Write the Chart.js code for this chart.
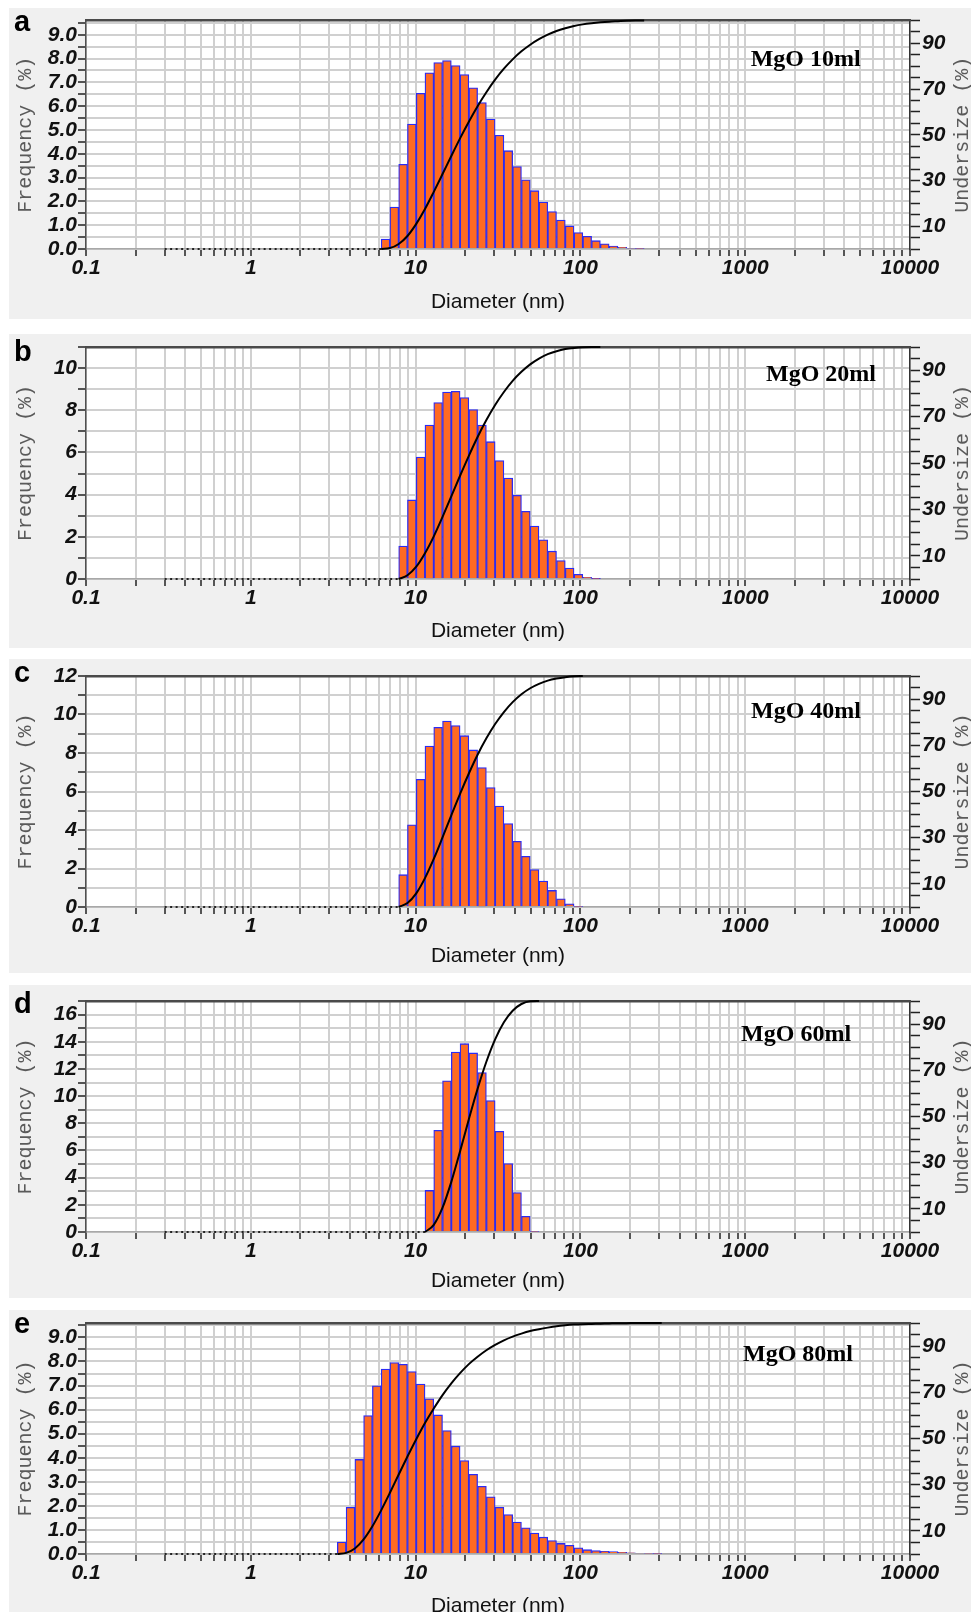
<!DOCTYPE html>
<html>
<head>
<meta charset="utf-8">
<script src="https://cdn.jsdelivr.net/npm/chart.js@4.4.1/dist/chart.umd.min.js"></script>
<style>
  html, body { margin: 0; padding: 0; background: #fff; }
  body { position: relative; width: 972px; height: 1612px; overflow: hidden; }
  .panel { position: absolute; left: 9px; width: 962px; background: #f0f0f0; }
  .panel canvas { position: absolute; left: 0; top: 0; }
  .letter { position: absolute; left: 14px; font: bold 29px 'Liberation Sans', Arial, sans-serif; line-height: 29px; color: #000; }
</style>
</head>
<body>
<script>
// Partikelgrössenverteilung MgO – fünf Panels (a–e), gleiche log-Achse 0.1–10000 nm

// Klassenmitten und Klassengrenzen (nm), gemeinsames Raster aller Messungen
const binCenters = [3.562, 4.026, 4.550, 5.143, 5.813, 6.571, 7.427, 8.395, 9.489, 10.73,
  12.12, 13.70, 15.49, 17.51, 19.79, 22.37, 25.28, 28.58, 32.30, 36.51,
  41.27, 46.65, 52.72, 59.60, 67.36, 76.14, 86.06, 97.28, 110.0, 124.3,
  140.5, 158.8, 179.5, 202.9, 229.3, 259.2, 293.0];
const binEdges = [3.350, 3.787, 4.280, 4.838, 5.468, 6.180, 6.986, 7.896, 8.925, 10.09,
  11.40, 12.89, 14.57, 16.47, 18.61, 21.04, 23.78, 26.88, 30.38, 34.34,
  38.81, 43.87, 49.59, 56.05, 63.35, 71.61, 80.94, 91.49, 103.4, 116.9,
  132.1, 149.4, 168.8, 190.8, 215.7, 243.8, 275.6, 311.5];

// Frequenz (%) je Klasse, Undersize (%) an den Klassengrenzen
const firstBinA = 5;
const freqA = [0.42, 1.76, 3.56, 5.25, 6.54, 7.40, 7.83, 7.92, 7.71, 7.33, 6.77, 6.15, 5.46, 4.78, 4.13,
  3.46, 2.91, 2.45, 1.97, 1.57, 1.22, 0.97, 0.69, 0.53, 0.35, 0.22, 0.12, 0.07, 0.04, 0.02];
const undersizeA = [0, 0.4, 2.2, 5.7, 11, 17.5, 25, 32.8, 40.7, 48.4, 55.7, 62.5, 68.6, 74.1, 78.9,
  83, 86.5, 89.4, 91.8, 93.8, 95.4, 96.6, 97.6, 98.3, 98.8, 99.2, 99.5, 99.7, 99.9, 100, 100];

const firstBinB = 7;
const freqB = [1.56, 3.75, 5.78, 7.30, 8.37, 8.86, 8.90, 8.60, 8.03, 7.30, 6.51, 5.62, 4.79, 3.97, 3.21,
  2.51, 1.86, 1.32, 0.87, 0.52, 0.22, 0.08, 0.02];
const undersizeB = [0, 1.6, 5.3, 11.1, 18.4, 26.8, 35.6, 44.5, 53.1, 61.2, 68.5, 75, 80.6, 85.4, 89.3,
  92.5, 95, 96.9, 98.2, 99.1, 99.6, 99.9, 100, 100];

const firstBinC = 7;
const freqC = [1.68, 4.27, 6.63, 8.36, 9.33, 9.66, 9.43, 8.90, 8.16, 7.24, 6.21, 5.24, 4.34, 3.41, 2.63,
  1.95, 1.35, 0.86, 0.43, 0.16, 0.03];
const undersizeC = [0, 1.7, 5.9, 12.5, 20.8, 30.1, 39.7, 49, 57.8, 65.9, 73, 79.2, 84.4, 88.7, 92.1,
  94.7, 96.6, 98, 98.9, 99.5, 99.9, 100];

const firstBinD = 10;
const freqD = [3.06, 7.48, 11.12, 13.25, 13.86, 13.18, 11.74, 9.68, 7.41, 5.04, 2.91, 1.15, 0.05];
const undersizeD = [0, 3.1, 10.5, 21.7, 34.9, 48.8, 62, 73.7, 83.4, 90.8, 95.8, 98.7, 99.9, 100];

const firstBinE = 0;
const freqE = [0.50, 1.94, 3.93, 5.75, 6.99, 7.69, 7.96, 7.88, 7.58, 7.06, 6.45, 5.78, 5.13, 4.48, 3.88,
  3.31, 2.81, 2.38, 1.94, 1.64, 1.33, 1.09, 0.87, 0.70, 0.56, 0.44, 0.36, 0.26, 0.18, 0.14,
  0.11, 0.10, 0.07, 0.05, 0.04, 0.03, 0.02];
const undersizeE = [0, 0.5, 2.4, 6.3, 12, 18.9, 26.5, 34.4, 42.2, 49.7, 56.7, 63, 68.8, 73.9, 78.3,
  82.2, 85.4, 88.2, 90.5, 92.5, 94.1, 95.4, 96.5, 97.3, 98, 98.6, 99, 99.3, 99.5, 99.6,
  99.7, 99.8, 99.9, 99.9, 100, 100, 100, 100];

// Achsenbeschriftungen
const decadeTicks = [0.1, 1, 10, 100, 1000, 10000];
const undersizeTicks = [10, 30, 50, 70, 90];
const freqTicksAE = [0, 1, 2, 3, 4, 5, 6, 7, 8, 9];
const freqTicksB = [0, 2, 4, 6, 8, 10];
const freqTicksC = [0, 2, 4, 6, 8, 10, 12];
const freqTicksD = [0, 2, 4, 6, 8, 10, 12, 14, 16];
const dottedFrom = 0.3; // gepunktete Nulllinie beginnt hier (nm)

// feines log-Gitter 1..9 je Dekade
const gridValues = [];
decadeTicks.forEach(d => {
  for (let m = 1; m <= 9; m++) if (d * m <= 10000) gridValues.push(d * m);
});

const panels = [
  { letter: 'a', name: 'MgO 10ml', freq: freqA, under: undersizeA, first: firstBinA, yMax: 9.6, yStep: 0.5,
    yTicks: freqTicksAE, yDec: 1, labelX: 1080, labelY: 82.7, top: 8, height: 311, padTop: 10, xAxisH: 70, letterTop: 7 },
  { letter: 'b', name: 'MgO 20ml', freq: freqB, under: undersizeB, first: firstBinB, yMax: 11, yStep: 1,
    yTicks: freqTicksB, yDec: 0, labelX: 1337, labelY: 87.9, top: 334, height: 314, padTop: 13, xAxisH: 69, letterTop: 337 },
  { letter: 'c', name: 'MgO 40ml', freq: freqC, under: undersizeC, first: firstBinC, yMax: 12, yStep: 1,
    yTicks: freqTicksC, yDec: 0, labelX: 1084, labelY: 84.4, top: 659, height: 314, padTop: 17, xAxisH: 66, letterTop: 658 },
  { letter: 'd', name: 'MgO 60ml', freq: freqD, under: undersizeD, first: firstBinD, yMax: 17, yStep: 1,
    yTicks: freqTicksD, yDec: 0, labelX: 944, labelY: 85.3, top: 985, height: 313, padTop: 16, xAxisH: 66, letterTop: 989 },
  { letter: 'e', name: 'MgO 80ml', freq: freqE, under: undersizeE, first: firstBinE, yMax: 9.6, yStep: 0.5,
    yTicks: freqTicksAE, yDec: 1, labelX: 970, labelY: 86.1, top: 1310, height: 313, padTop: 13, xAxisH: 69, letterTop: 1309 },
];

const SANS = "'Liberation Sans', Arial, sans-serif";
const MONO = "'Liberation Mono', 'Courier New', monospace";
const tickFont = size => ({ family: SANS, size, style: 'italic', weight: 'bold', lineHeight: 1 });
const GRID = '#d0d0d0';
const TICK = '#222';

// Breite Zeichenfläche = Canvas minus linke/rechte Achse; Balkenbreite = eine Klasse auf der log-Achse
const CANVAS_W = 962, LEFT_W = 77, RIGHT_W = 61;
const PLOT_W = CANVAS_W - LEFT_W - RIGHT_W;
const barPx = PLOT_W * Math.log10(binEdges[1] / binEdges[0]) / 5;

// Hintergrund der Zeichenfläche, Probenname und rechte Achsenbeschriftung
const panelDecor = {
  id: 'panelDecor',
  beforeDraw(chart) {
    const { ctx, chartArea: a } = chart;
    ctx.save();
    ctx.fillStyle = '#ffffff';
    ctx.fillRect(a.left, a.top, a.right - a.left, a.bottom - a.top);
    ctx.restore();
  },
  afterDraw(chart, args, opts) {
    const { ctx, chartArea: a, scales } = chart;
    ctx.save();
    ctx.font = "bold 24px 'Liberation Serif', 'Times New Roman', serif";
    ctx.fillStyle = '#000';
    ctx.textBaseline = 'middle';
    ctx.textAlign = 'left';
    ctx.fillText(opts.text, scales.x.getPixelForValue(opts.atX), scales.y2.getPixelForValue(opts.atY));
    // liest von unten nach oben, wie links
    ctx.translate(a.right + 53, (a.top + a.bottom) / 2);
    ctx.rotate(-Math.PI / 2);
    ctx.font = '20px ' + MONO;
    ctx.fillStyle = '#5a5a5a';
    ctx.textAlign = 'center';
    ctx.fillText('Undersize (%)', 0, 0);
    ctx.restore();
  },
};

panels.forEach(p => {
  const box = document.createElement('div');
  box.className = 'panel';
  box.style.top = p.top + 'px';
  box.style.height = p.height + 'px';
  const canvas = document.createElement('canvas');
  canvas.width = CANVAS_W;
  canvas.height = p.height;
  box.appendChild(canvas);
  document.body.appendChild(box);

  const letter = document.createElement('div');
  letter.className = 'letter';
  letter.style.top = p.letterTop + 'px';
  letter.textContent = p.letter;
  document.body.appendChild(letter);

  new Chart(canvas, {
    type: 'line',
    data: {
      datasets: [
        {
          type: 'line', order: 0, xAxisID: 'x', yAxisID: 'y2',
          data: p.under.map((v, i) => ({ x: binEdges[p.first + i], y: v })),
          borderColor: '#000', borderWidth: 2, pointRadius: 0,
          cubicInterpolationMode: 'monotone', clip: false,
        },
        {
          type: 'line', order: 1, xAxisID: 'x', yAxisID: 'y',
          data: [{ x: dottedFrom, y: 0 }, { x: binEdges[p.first], y: 0 }],
          borderColor: '#222', borderWidth: 2, borderDash: [2, 3.5], pointRadius: 0, clip: false,
        },
        {
          type: 'bar', order: 2, xAxisID: 'xb', yAxisID: 'y',
          data: p.freq.map((v, i) => ({ x: binCenters[p.first + i], y: v })),
          backgroundColor: '#ff6a22', borderColor: '#2b2bf5', borderWidth: 1.3,
          borderSkipped: 'start', barThickness: barPx, grouped: false,
        },
      ],
    },
    options: {
      responsive: false,
      animation: false,
      events: [],
      layout: { padding: { top: p.padTop, left: 0, right: 0, bottom: 0 } },
      plugins: {
        legend: { display: false },
        tooltip: { enabled: false },
        panelDecor: { text: p.name, atX: p.labelX, atY: p.labelY },
      },
      scales: {
        x: {
          type: 'logarithmic', position: 'bottom', min: 0.1, max: 10000, offset: false,
          afterBuildTicks: s => { s.ticks = gridValues.map(v => ({ value: v })); },
          afterFit: s => { s.height = p.xAxisH; },
          grid: { color: GRID, lineWidth: 2, drawTicks: true, tickLength: 7, tickColor: TICK, tickWidth: 1.5, offset: false },
          border: { display: true, color: '#a8a8a8', width: 1.5 },
          ticks: {
            autoSkip: false, maxRotation: 0, padding: 2, color: '#111', font: tickFont(21),
            callback: v => decadeTicks.includes(v) ? String(v) : '',
          },
          title: {
            display: true, text: 'Diameter (nm)', color: '#111',
            font: { family: SANS, size: 21, lineHeight: 1.2 }, padding: { top: 0, bottom: 4 },
          },
        },
        y: {
          type: 'linear', position: 'left', min: 0, max: p.yMax,
          afterFit: s => { s.width = LEFT_W; },
          grid: { color: GRID, lineWidth: 2, tickLength: 8, tickColor: TICK, tickWidth: 1.5 },
          border: { display: true, color: '#505050', width: 1.5 },
          ticks: {
            stepSize: p.yStep, includeBounds: false, autoSkip: false, padding: 1, color: '#111', font: tickFont(21),
            callback: v => p.yTicks.includes(v) ? v.toFixed(p.yDec) : '',
          },
          title: {
            display: true, text: 'Frequency (%)', color: '#5a5a5a',
            font: { family: MONO, size: 20, lineHeight: 1.2 }, padding: { top: 5, bottom: 0 },
          },
        },
        y2: {
          type: 'linear', position: 'right', min: 0, max: 100,
          afterFit: s => { s.width = RIGHT_W; },
          grid: { drawOnChartArea: false, tickLength: 10, tickColor: TICK, tickWidth: 1.5 },
          border: { display: true, color: '#333', width: 1.5 },
          ticks: {
            stepSize: 5, autoSkip: false, padding: 2, color: '#111', font: tickFont(21),
            callback: v => undersizeTicks.includes(v) ? String(v) : '',
          },
        },
        xb: {
          type: 'logarithmic', position: 'top', min: 0.1, max: 10000, offset: false,
          afterBuildTicks: s => { s.ticks = [{ value: 0.1 }, { value: 10000 }]; },
          afterFit: s => { s.height = 0; },
          grid: { display: false, drawTicks: false },
          border: { display: true, color: '#4a4a4a', width: 2.5 },
          ticks: { display: false },
        },
      },
    },
    plugins: [panelDecor],
  });
});
</script>
</body>
</html>
